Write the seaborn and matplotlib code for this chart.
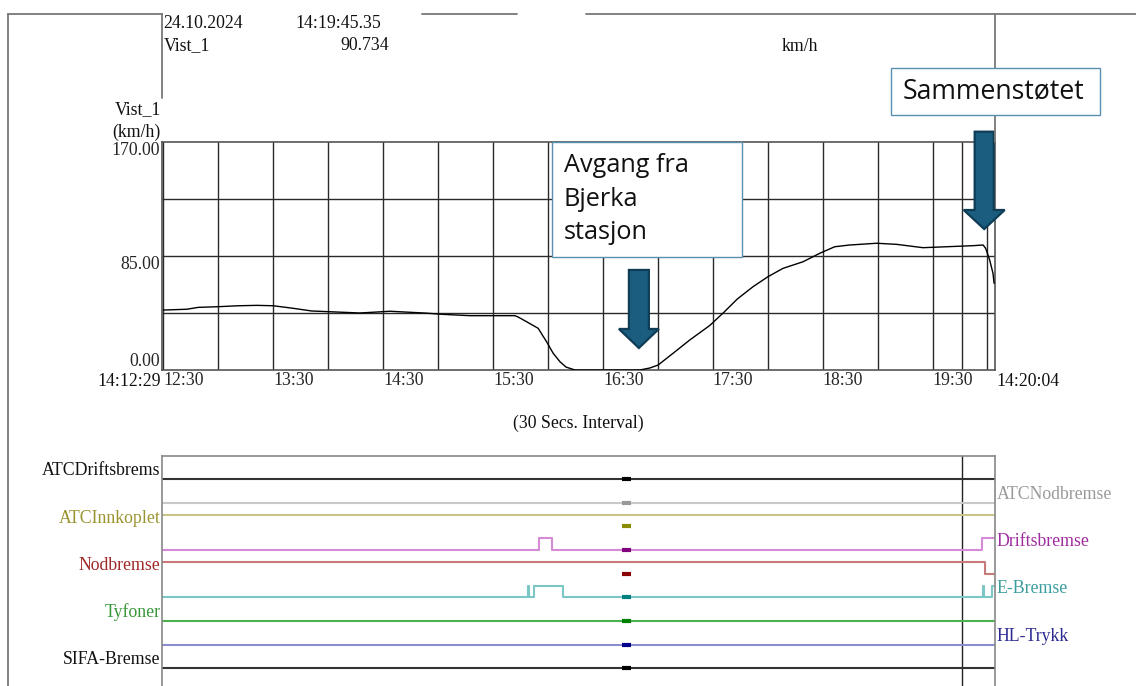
import matplotlib
matplotlib.use('Agg')
import matplotlib.pyplot as plt
import matplotlib.transforms as mtransforms
from matplotlib.patches import FancyArrow, Rectangle
from matplotlib.lines import Line2D
import seaborn as sns

# speed trace: seconds after 14:12:29 and speed in km/h
speed_t = [1.0, 13.8, 20.1, 31.0, 41.9, 52.0, 61.0, 71.9, 82.0, 91.0, 108.3, 124.7,
           143.3, 153.6, 168.4, 180.9, 192.9, 194.7, 199.3, 205.6, 210.2, 213.8, 217.5,
           220.8, 225.7, 261.1, 266.6, 271.1, 279.3, 288.4, 299.3, 306.9, 314.3, 322.9,
           331.1, 339.3, 350.2, 359.3, 367.5, 375.7, 390.3, 401.2, 415.7, 428.5, 443.0,
           448.5, 449.9, 452.1, 453.9, 454.5]
speed_v = [44.7, 45.3, 46.7, 47.2, 47.9, 48.2, 47.9, 46.0, 44.0, 43.5, 42.5, 43.8,
           42.5, 41.5, 40.5, 40.5, 40.5, 39.5, 36.0, 31.1, 21.1, 12.5, 6.2,
           2.2, 0.0, 0.0, 1.5, 3.7, 12.5, 22.4, 33.2, 42.9, 52.9, 62.1,
           69.6, 75.8, 80.7, 87.0, 91.9, 93.2, 94.5, 93.7, 91.2, 91.9, 92.7,
           93.2, 90.7, 82.0, 72.1, 64.6]

t_end = 455.0
grid_t = [1 + 30 * i for i in range(15)]
tick_t = [1 + 60 * i for i in range(8)]
tick_labels = ['12:30', '13:30', '14:30', '15:30', '16:30', '17:30', '18:30', '19:30']
y_ticks = [0, 85, 170]
y_labels = ['0.00', '85.00', '170.00']
cursor_t = [436.8, 450.8]
marker_t = 254.0

# digital channels: name, line colour, label colour, label side, change times, states
channels = [
    ('ATCDriftsbrems', '#333333', '#111111', 'left', [0, t_end], [0, 0]),
    ('ATCNodbremse', '#c8c8c8', '#9a9a9a', 'right', [0, t_end], [0, 0]),
    ('ATCInnkoplet', '#c9c48a', '#9a9430', 'left', [0, t_end], [1, 1]),
    ('Driftsbremse', '#d58ad5', '#a02ca0', 'right', [0, 206.0, 213.1, 448.1, t_end], [0, 1, 0, 1, 1]),
    ('Nodbremse', '#c87a7a', '#a02828', 'left', [0, 449.4, t_end], [1, 0, 0]),
    ('E-Bremse', '#7cc6c6', '#3a9e9e', 'right',
     [0, 200.0, 200.5, 203.4, 219.1, 448.6, 449.1, 453.4, t_end], [0, 1, 0, 1, 0, 1, 0, 1, 1]),
    ('Tyfoner', '#4caf50', '#3a963a', 'left', [0, t_end], [0, 0]),
    ('HL-Trykk', '#8c8cd0', '#2a2a90', 'right', [0, t_end], [0, 0]),
    ('SIFA-Bremse', '#333333', '#111111', 'left', [0, t_end], [0, 0]),
]
marker_colors = ['#000000', '#9a9a9a', '#8b8b00', '#800080', '#8b0000',
                 '#008080', '#008000', '#00008b', '#000000']

W, H = 1136, 686


def fx(x):
    return x / W


def fy(y):
    return 1 - y / H


sns.set_style('white')
plt.rcParams['font.family'] = ['Liberation Serif', 'DejaVu Serif']
serif_size = 12.8
box_font = ['Open Sans', 'DejaVu Sans']

fig = plt.figure(figsize=(W / 100, H / 100), dpi=100)

# ---- speed panel
ax = fig.add_axes([fx(161.5), fy(370), fx(995) - fx(161.5), fy(142) - fy(370)])
for t in grid_t:
    ax.axvline(t, color='#2a2a2a', lw=1.0, zorder=1)
for v in [42.5, 85, 127.5]:
    ax.axhline(v, color='#2a2a2a', lw=1.0, zorder=1)
for t in cursor_t:
    ax.axvline(t, color='#2a2a2a', lw=1.0, zorder=1)
sns.lineplot(x=speed_t, y=speed_v, ax=ax, color='black', lw=1.0, sort=False,
             estimator=None, zorder=3)
ax.set_xlim(0, t_end)
ax.set_ylim(0, 170)
ax.set_xticks(tick_t)
ax.set_xticklabels(tick_labels, ha='left', fontsize=serif_size)
ax.set_yticks(y_ticks)
ax.set_yticklabels(y_labels, fontsize=serif_size)
for lab in ax.get_yticklabels():
    lab.set_va('bottom' if lab.get_text() == '0.00' else 'top')
ax.tick_params(length=0, pad=1.5)
ax.tick_params(axis='y', pad=0.8)
ax.set_xlabel('')
ax.set_ylabel('')
for s in ax.spines.values():
    s.set_color('#555555')
    s.set_linewidth(1.2)

# arrows
arrow_kw = dict(length_includes_head=True, facecolor='#1b5d7e', edgecolor='#0e3d55',
                lw=1.6, clip_on=False, zorder=6)
ax.add_patch(FancyArrow(260.6, 74.6, 0, -58.2, width=10.9, head_width=21.8,
                        head_length=14.2, **arrow_kw))
ax.add_patch(FancyArrow(449.1, 177.7, 0, -72.6, width=10.4, head_width=22.4,
                        head_length=14.2, **arrow_kw))

# ---- signal panel
ax2 = fig.add_axes([fx(161.5), 0, fx(995) - fx(161.5), fy(456)])
ax2.set_xlim(0, t_end)
ax2.set_ylim(8.758, -0.987)
for k, (name, lc, tc, side, ts, vs) in enumerate(channels):
    ys = [k - 0.5 * v for v in vs]
    ax2.plot(ts, ys, drawstyle='steps-post', color=lc, lw=1.5, zorder=2)
    ax2.plot([marker_t - 2.5, marker_t + 2.5], [k, k], color=marker_colors[k], lw=3,
             solid_capstyle='butt', zorder=3)
    trans = mtransforms.blended_transform_factory(ax2.transAxes, ax2.transData)
    if side == 'left':
        ax2.text(-0.001, k - 0.36, name, transform=trans, ha='right', va='center',
                 color=tc, fontsize=serif_size)
    else:
        ax2.text(1.002, k - 0.36, name, transform=trans, ha='left', va='center',
                 color=tc, fontsize=serif_size)
ax2.axvline(cursor_t[0], color='#222222', lw=1.0, zorder=1)
ax2.set_xticks([])
ax2.set_yticks([])
for s in ax2.spines.values():
    s.set_color('#888888')
    s.set_linewidth(1.2)
ax2.spines['bottom'].set_visible(False)

# ---- header texts
txt = dict(fontsize=serif_size, va='center', color='#111111')
fig.text(fx(163.5), fy(24), '24.10.2024', ha='left', **txt)
fig.text(fx(295.4), fy(24), '14:19:45.35', ha='left', **txt)
fig.text(fx(163.5), fy(45.7), 'Vist_1', ha='left', **txt)
fig.text(fx(389.2), fy(45.7), '90.734', ha='right', **txt)
fig.text(fx(781.7), fy(46.7), 'km/h', ha='left', **txt)
fig.text(fx(160.7), fy(110), 'Vist_1', ha='right', **txt)
fig.text(fx(160.7), fy(132.7), '(km/h)', ha='right', **txt)
fig.text(fx(160.5), fy(381.7), '14:12:29', ha='right', **txt)
fig.text(fx(996.5), fy(381.7), '14:20:04', ha='left', **txt)
fig.text(fx(578.5), fy(423), '(30 Secs. Interval)', ha='center', **txt)

# ---- frame lines of the printout
frame = [((7.7, 14), (7.7, 686)), ((7.7, 14), (162, 14)), ((162, 14), (162, 98)),
         ((422, 14), (517, 14)), ((586, 14), (1136, 14)), ((995, 14), (995, 142))]
for (x0, y0), (x1, y1) in frame:
    fig.add_artist(Line2D([fx(x0), fx(x1)], [fy(y0), fy(y1)], transform=fig.transFigure,
                          color='#777777', lw=1.3))

# ---- callout boxes
for (x0, y0, x1, y1) in [(552, 142, 742, 257), (891, 68, 1100, 115)]:
    fig.add_artist(Rectangle((fx(x0), fy(y1)), fx(x1) - fx(x0), fy(y0) - fy(y1),
                             transform=fig.transFigure, facecolor='white',
                             edgecolor='#5b8fb0', lw=1.0, zorder=5))
box_txt = dict(family=box_font, ha='left', va='center', color='#111111', zorder=7)
for line, yy in zip(['Avgang fra', 'Bjerka', 'stasjon'], [165, 199, 233]):
    fig.text(fx(564), fy(yy), line, fontsize=18.2, **box_txt)
fig.text(fx(903), fy(91.5), 'Sammenstøtet', fontsize=19.2, **box_txt)

fig.savefig('out.png', dpi=100)
